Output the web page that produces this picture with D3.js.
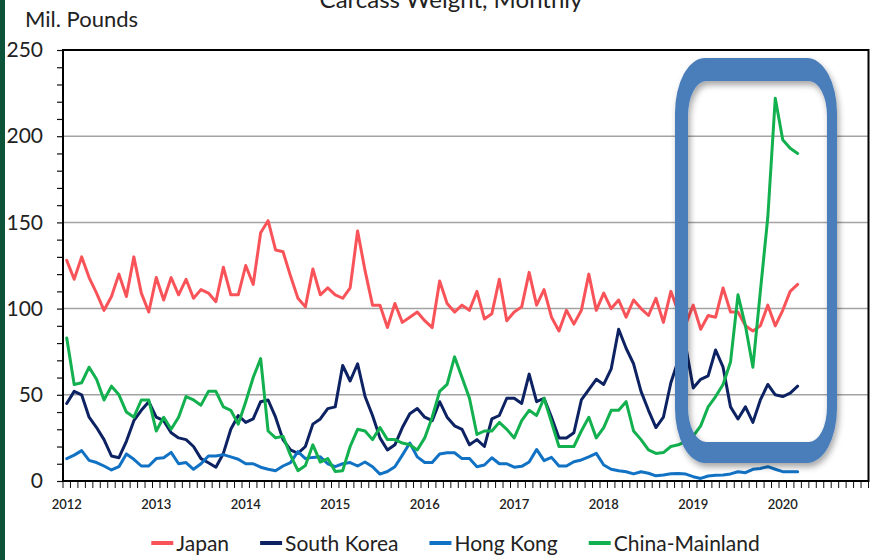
<!DOCTYPE html>
<html>
<head>
<meta charset="utf-8">
<script src="https://cdn.jsdelivr.net/npm/d3@7/dist/d3.min.js"></script>
<style>
  html, body { margin: 0; padding: 0; background: #fff; }
  svg { display: block; }
  text { font-family: Lato, "Open Sans", sans-serif; }
</style>
</head>
<body>
<svg id="chart" width="881" height="560"></svg>
<script>
// Monthly exports, carcass weight (million pounds), Jan 2012 – Mar 2020
const yearLabels = ["2012", "2013", "2014", "2015", "2016", "2017", "2018", "2019", "2020"];
const yTicks = [0, 50, 100, 150, 200, 250];
const seriesNames = ["Japan", "South Korea", "Hong Kong", "China-Mainland"];

const japan = [128, 117, 130, 118, 109, 99, 107, 120, 107, 130, 109, 98,
  118, 105, 118, 108, 117, 106, 111, 109, 104, 124, 108, 108,
  125, 114, 144, 151, 134, 133, 119, 106, 101, 123, 108, 112,
  108, 106, 112, 145, 122, 102, 102, 89, 103, 92, 95, 98,
  93, 89, 116, 103, 98, 102, 99, 110, 94, 97, 117, 93,
  98, 101, 121, 102, 111, 95, 87, 99, 91, 99, 120, 99,
  109, 100, 105, 95, 105, 100, 96, 106, 92, 110, 98, 91,
  102, 88, 96, 95, 112, 98, 98, 90, 87, 90, 102, 90,
  99, 110, 114];

const southKorea = [45, 52, 50, 37, 31, 24, 14.5, 13.5, 23, 35, 41, 46,
  37, 35, 28, 25, 24, 20, 13, 10.6, 8, 16, 30, 38,
  34, 36, 46, 47, 37, 24, 18, 16, 20, 33, 36, 42,
  43, 67, 58, 68, 49, 38, 25, 18, 21, 31, 39, 42,
  37, 35, 46, 37, 32, 30, 21, 24, 20, 36, 38, 48,
  48, 45, 62, 46, 48, 37, 25, 25, 28, 47, 53, 59,
  56, 65, 88, 77, 68, 52, 41, 31, 37, 57, 70, 78,
  54, 59, 61, 76, 66, 43, 36, 43, 34, 47, 56, 50,
  49, 51, 55];

const hongKong = [13, 15, 17.6, 12, 10.7, 8.7, 6.4, 8.3, 15.7, 12.6, 8.7, 8.7,
  13, 13.5, 16.6, 10, 10.7, 6.8, 10, 14.5, 14.5, 15.3, 14, 12.6,
  10, 10, 8, 6.8, 6, 8.7, 10.7, 17, 13, 13.7, 14, 10,
  8.3, 10, 10.7, 8.7, 11, 8.3, 4, 5.5, 8.3, 15, 22, 14,
  10.7, 10.7, 15.7, 16.4, 16.4, 13, 13, 8.3, 9.3, 13.5, 10, 10,
  8, 8.5, 11, 18.3, 11.8, 13.7, 8.7, 8.7, 11.2, 12.2, 14, 16,
  9.3, 6.8, 6, 5.4, 4.1, 5.4, 4.5, 3, 3.5, 4.2, 4.3, 4,
  2.5, 1.5, 2.9, 3.3, 3.5, 4.1, 5.4, 4.8, 6.8, 7.3, 8.3, 6.8,
  5.4, 5.4, 5.4];

const chinaMainland = [83, 56, 57, 66, 59, 47, 55, 50, 40, 37, 47, 47,
  29, 37, 30, 37, 49, 47, 44, 52, 52, 43, 41, 33,
  46, 60, 71, 29, 25, 26, 15, 6, 9, 21, 11, 13,
  5.5, 6, 20, 30, 29, 24, 31, 24, 24, 22, 21, 18,
  25, 37, 52, 56, 72, 60, 48, 27, 29, 29, 34, 30,
  25, 35, 41, 38, 48, 34, 20, 20, 20, 29, 37, 25,
  31, 41, 41, 46, 29, 24, 18, 16, 16.5, 20, 21, 23,
  26, 32, 43, 49, 56, 69, 108, 90, 66, 110, 153, 222,
  198, 193, 190];

const seriesValues = [japan, southKorea, hongKong, chinaMainland];
const seriesColors = ["#f9535a", "#0d2262", "#1172c4", "#12b04e"];

// Monthly categories spanning 2012 through 2020
const months = d3.range(yearLabels.length * 12);

const svg = d3.select("#chart");
const plot = { left: 63, right: 868.5, top: 50, bottom: 481 };

// Thin dark band down the left edge of the page
svg.append("rect").attr("x", 0).attr("y", 0).attr("width", 5).attr("height", 560).attr("fill", "#0c5339");

// Title, partially above the visible page
svg.append("text")
  .attr("x", 451).attr("y", 8)
  .attr("text-anchor", "middle")
  .attr("font-size", 24).attr("fill", "#222")
  .text("Carcass Weight, Monthly");

svg.append("text")
  .attr("x", 25).attr("y", 27)
  .attr("font-size", 22).attr("fill", "#222")
  .text("Mil. Pounds");

const x = d3.scaleBand().domain(months).range([plot.left, plot.right]).padding(0);
const y = d3.scaleLinear().domain([0, 250]).range([plot.bottom, plot.top]);
const cx = i => x(i) + x.bandwidth() / 2;

// Horizontal gridlines
svg.append("g")
  .selectAll("line")
  .data(yTicks.filter(v => v > 0 && v < 250))
  .join("line")
  .attr("x1", plot.left).attr("x2", plot.right)
  .attr("y1", d => y(d)).attr("y2", d => y(d))
  .attr("stroke", "#a3a3a3").attr("stroke-width", 1.5);

// Y axis with minor ticks every 10
const yAxis = d3.axisLeft(y)
  .tickValues(d3.range(0, 251, 10))
  .tickSizeInner(6).tickSizeOuter(0).tickPadding(14)
  .tickFormat(d => yTicks.includes(d) ? d : "");
const gy = svg.append("g").attr("transform", `translate(${plot.left},0)`).call(yAxis);
gy.select(".domain").remove();
gy.selectAll(".tick line").attr("stroke", "#111").attr("stroke-width", 1.2);
gy.selectAll(".tick text")
  .attr("font-family", "Lato, 'Open Sans', sans-serif")
  .attr("font-size", 21).attr("fill", "#222");

// X axis: a tick at every month boundary, year labels centred on January
const gx = svg.append("g");
gx.selectAll("line")
  .data(d3.range(months.length + 1))
  .join("line")
  .attr("x1", k => plot.left + k * x.step()).attr("x2", k => plot.left + k * x.step())
  .attr("y1", plot.bottom).attr("y2", plot.bottom + 7)
  .attr("stroke", "#111").attr("stroke-width", 1);
gx.selectAll("text")
  .data(yearLabels)
  .join("text")
  .attr("x", (d, i) => cx(i * 12))
  .attr("y", 509)
  .attr("text-anchor", "middle")
  .attr("font-size", 13).attr("font-weight", 600).attr("fill", "#222")
  .text(d => d);

// Series lines
const line = d3.line().x((d, i) => cx(i)).y(d => y(d));
svg.append("g")
  .selectAll("path")
  .data(seriesValues)
  .join("path")
  .attr("d", line)
  .attr("fill", "none")
  .attr("stroke", (d, i) => seriesColors[i])
  .attr("stroke-width", 3)
  .attr("stroke-linejoin", "round")
  .attr("stroke-linecap", "round");

// Plot border
svg.append("rect")
  .attr("x", plot.left).attr("y", plot.top)
  .attr("width", plot.right - plot.left).attr("height", plot.bottom - plot.top)
  .attr("fill", "none").attr("stroke", "#000").attr("stroke-width", 2);

// Rounded highlight frame around the latest period
const defs = svg.append("defs");
const f = defs.append("filter").attr("id", "shade").attr("x", "-20%").attr("y", "-20%").attr("width", "140%").attr("height", "140%");
f.append("feDropShadow").attr("dx", 2).attr("dy", 4).attr("stdDeviation", 3)
  .attr("flood-color", "#000").attr("flood-opacity", 0.35);

function roundedRect(x0, y0, x1, y1, rx, ry) {
  return `M${x0 + rx},${y0}H${x1 - rx}A${rx},${ry} 0 0 1 ${x1},${y0 + ry}` +
    `V${y1 - ry}A${rx},${ry} 0 0 1 ${x1 - rx},${y1}H${x0 + rx}` +
    `A${rx},${ry} 0 0 1 ${x0},${y1 - ry}V${y0 + ry}A${rx},${ry} 0 0 1 ${x0 + rx},${y0}Z`;
}
svg.append("path")
  .attr("d", roundedRect(675, 58, 837, 463, 30, 55) + roundedRect(688, 81, 827, 442, 18, 35))
  .attr("fill", "#4a7ebb")
  .attr("fill-rule", "evenodd")
  .attr("filter", "url(#shade)");

// Legend
const legend = svg.append("g");
let lx = 0;
seriesNames.forEach((name, i) => {
  const g = legend.append("g").attr("transform", `translate(${lx},0)`);
  g.append("line").attr("x1", 0).attr("x2", 22).attr("y1", 0).attr("y2", 0)
    .attr("stroke", seriesColors[i]).attr("stroke-width", 4);
  const t = g.append("text").attr("x", 25).attr("y", 7.5)
    .attr("font-size", 21).attr("fill", "#222").text(name);
  lx += 25 + t.node().getComputedTextLength() + 31;
});
const legendWidth = lx - 31;
legend.attr("transform", `translate(${455.5 - legendWidth / 2},543)`);
</script>
</body>
</html>
